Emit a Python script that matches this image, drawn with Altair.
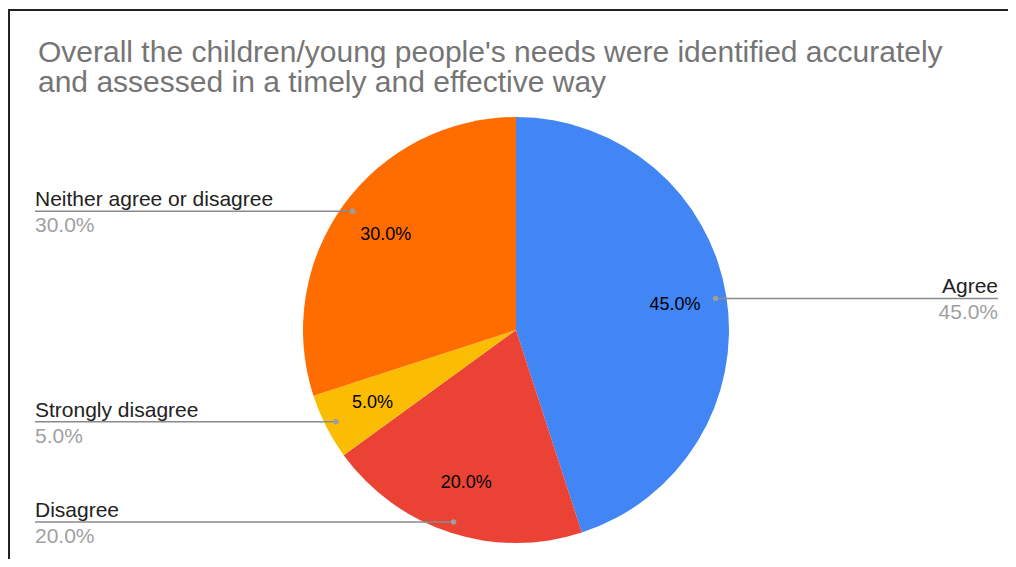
import altair as alt
import pandas as pd

categories = ["Agree", "Disagree", "Strongly disagree", "Neither agree or disagree"]
values = [45.0, 20.0, 5.0, 30.0]
colors = ["#4285F4", "#EA4335", "#FBBC04", "#FF6D01"]
title_lines = [
    "Overall the children/young people's needs were identified accurately",
    "and assessed in a timely and effective way",
]

df = pd.DataFrame({"category": categories, "value": values, "order": list(range(len(categories)))})

W, H = 1000, 551
CX, CY, R = 508, 322, 213
R_IN = 161
R_DOT = 202
XL, XR = 27, 990
FONT = "Liberation Sans"

base = alt.Chart(df)
color = alt.Color("category:N", scale=alt.Scale(domain=categories, range=colors), legend=None)

pie = base.mark_arc(outerRadius=R).encode(
    theta=alt.Theta("value:Q", stack=True),
    color=color,
    order=alt.Order("order:Q"),
    x=alt.value(CX),
    y=alt.value(CY),
)

inner = base.transform_calculate(
    pct="format(datum.value, '.1f') + '%'"
).mark_text(radius=R_IN, fontSize=18, font=FONT, color="#000000").encode(
    theta=alt.Theta("value:Q", stack=True),
    order=alt.Order("order:Q"),
    text="pct:N",
    x=alt.value(CX),
    y=alt.value(CY),
)

callout = base.transform_joinaggregate(total="sum(value)").transform_window(
    cum="sum(value)", sort=[alt.SortField("order")], frame=[None, 0]
).transform_calculate(
    mid="(datum.cum - datum.value / 2) / datum.total * 2 * PI",
    px=f"{CX} + {R_DOT} * sin(datum.mid)",
    py=f"{CY} - {R_DOT} * cos(datum.mid)",
    lx=f"datum.mid < PI ? {XR} : {XL}",
    side="datum.mid < PI ? 'right' : 'left'",
    pct="format(datum.value, '.1f') + '%'",
)

lines = callout.mark_rule(color="#8a8a8a", strokeWidth=1.5).encode(
    x=alt.X("px:Q", scale=None),
    x2="lx:Q",
    y=alt.Y("py:Q", scale=None),
)

dots = callout.mark_circle(color="#9e9e9e", opacity=1, size=30).encode(
    x=alt.X("px:Q", scale=None),
    y=alt.Y("py:Q", scale=None),
)

def side_labels(side, align):
    c = callout.transform_filter(f"datum.side == '{side}'")
    name = c.mark_text(align=align, baseline="alphabetic", dy=-5, fontSize=21, font=FONT, color="#222222").encode(
        x=alt.X("lx:Q", scale=None), y=alt.Y("py:Q", scale=None), text="category:N"
    )
    pct = c.mark_text(align=align, baseline="top", dy=4, fontSize=21, font=FONT, color="#a0a0a0").encode(
        x=alt.X("lx:Q", scale=None), y=alt.Y("py:Q", scale=None), text="pct:N"
    )
    return name + pct

title = alt.Chart(pd.DataFrame({"t": [0]})).mark_text(
    text=title_lines, align="left", baseline="alphabetic", fontSize=30, lineHeight=30,
    font=FONT, color="#757575"
).encode(x=alt.value(30), y=alt.value(54))

border_top = alt.Chart(pd.DataFrame({"t": [0]})).mark_rule(color="#222222", strokeWidth=2).encode(
    x=alt.value(0), x2=alt.value(W), y=alt.value(2)
)
border_left = alt.Chart(pd.DataFrame({"t": [0]})).mark_rule(color="#222222", strokeWidth=2).encode(
    x=alt.value(1), y=alt.value(1), y2=alt.value(H)
)

chart = alt.layer(
    pie, inner, lines, dots, side_labels("left", "left"), side_labels("right", "right"),
    title, border_top, border_left,
).properties(width=W, height=H, autosize="none", padding=0).configure_view(stroke=None)

chart.save("out.html", embed_options={"renderer": "svg", "actions": False})
